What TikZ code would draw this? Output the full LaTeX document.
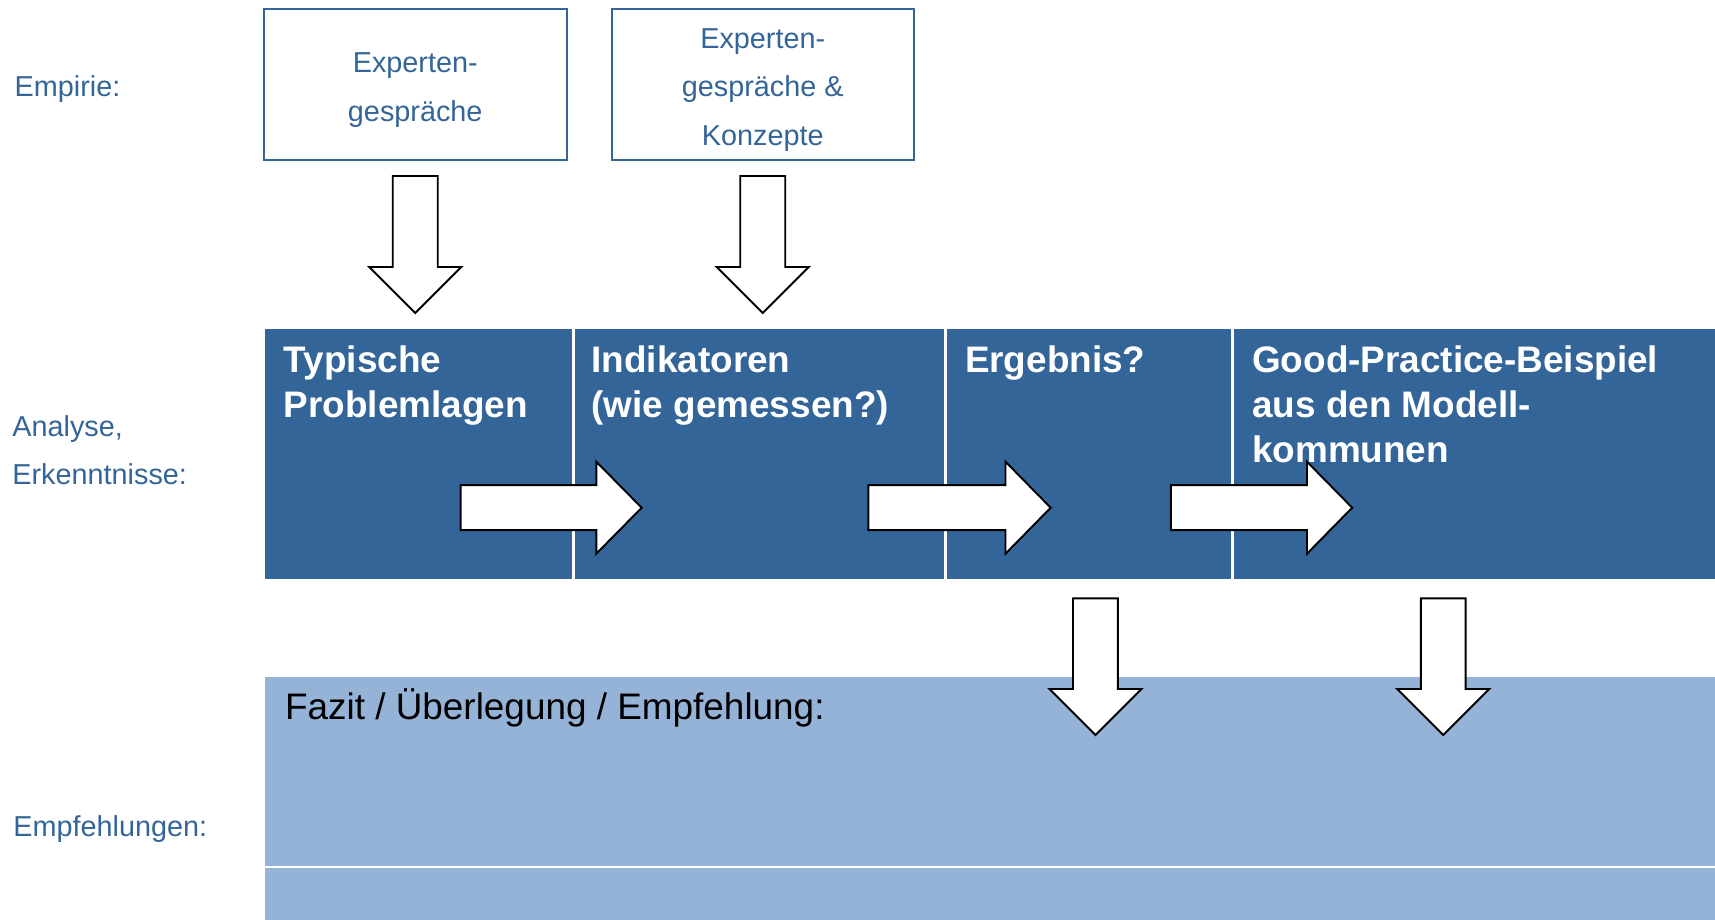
\documentclass[tikz,border=0pt]{standalone}
\usepackage{fontspec}
\setmainfont{Liberation Sans}
\usetikzlibrary{calc}
\definecolor{deepblue}{RGB}{52,101,153}
\definecolor{paleblue}{RGB}{149,179,215}
\tikzset{
  sidelabel/.style={inner sep=0pt, text=deepblue, align=left,
    font=\fontsize{8.2}{13.7}\selectfont},
  srcbox/.style={draw=deepblue, line width=0.2mm, inner sep=0pt,
    minimum width=30.25mm, minimum height=15.1mm},
  srctext/.style={inner sep=0pt, text=deepblue, align=center,
    font=\fontsize{8.2}{13.7}\selectfont},
  stage/.style={fill=deepblue, inner sep=0pt, anchor=north west, minimum height=25mm},
  stagetext/.style={inner sep=0pt, anchor=north west, text=white, align=left,
    font=\fontsize{10.5}{12.8}\selectfont\bfseries},
  recap/.style={fill=paleblue, inner sep=0pt, anchor=north west, minimum width=145.03mm},
  blockarrow/.style={draw=black, fill=white, line width=0.55pt, line join=miter},
}

\begin{document}
\begin{tikzpicture}[x=0.1mm, y=-0.1mm]
	\useasboundingbox (0,0) rectangle (1715,919);

	% Zeilenbeschriftung links
	\node[sidelabel, anchor=base west] (lblemp) at (14,96.7) {Empirie:};
	\node[sidelabel, anchor=north west] (lblana) at (11.7,415) {Analyse,\\Erkenntnisse:};
	\node[sidelabel, anchor=base west] (lblrec) at (12.7,836.7) {Empfehlungen:};

	% Empirie: Quellen
	\node[srcbox] (exp1) at (415.25,84.5) {};
	\node[srcbox] (exp2) at (762.75,84.5) {};
	\node[srctext] (exp1txt) at ($(exp1.center)+(0,5.5)$) {Experten-\\gespräche};
	\node[srctext] (exp2txt) at ($(exp2.center)+(0,5.5)$) {Experten-\\gespräche \&\\Konzepte};

	% Blockpfeile nach unten
	\draw[blockarrow, shift={($(exp1.south)+(0,15)$)}] (-22.5,0) -- (22.5,0) -- (22.5,91)
		-- (46,91) -- (0,137) -- (-46,91) -- (-22.5,91) -- cycle;
	\draw[blockarrow, shift={($(exp2.south)+(0,15)$)}] (-22.5,0) -- (22.5,0) -- (22.5,91)
		-- (46,91) -- (0,137) -- (-46,91) -- (-22.5,91) -- cycle;

	% Analyse: vier Felder
	\node[stage, minimum width=30.61mm] (typ) at (264.7,328.3) {};
	\node[stage, minimum width=36.89mm] (ind) at (573.9,328.3) {};
	\node[stage, minimum width=28.42mm] (erg) at (945.8,328.3) {};
	\node[stage, minimum width=48.20mm] (gp) at (1233,328.3) {};
	\node[stagetext] (typtxt) at ($(typ.north west)+(18.5,17)$) {Typische\\Problemlagen};
	\node[stagetext] (indtxt) at ($(ind.north west)+(17,17)$) {Indikatoren\\(wie gemessen?)};
	\node[stagetext] (ergtxt) at ($(erg.north west)+(18.5,17)$) {Ergebnis?};
	\node[stagetext] (gptxt) at ($(gp.north west)+(18.5,17)$) {Good-Practice-Beispiel\\aus den Modell-\\kommunen};

	% Blockpfeile nach rechts
	\draw[blockarrow, shift={(460.6,507.7)}] (0,-22.5) -- (135.7,-22.5) -- (135.7,-46)
		-- (181.1,0) -- (135.7,46) -- (135.7,22.5) -- (0,22.5) -- cycle;
	\draw[blockarrow, shift={(868.3,507.7)}] (0,-22.5) -- (137.2,-22.5) -- (137.2,-46)
		-- (182.4,0) -- (137.2,46) -- (137.2,22.5) -- (0,22.5) -- cycle;
	\draw[blockarrow, shift={(1170.8,507.7)}] (0,-22.5) -- (136.2,-22.5) -- (136.2,-46)
		-- (181.4,0) -- (136.2,46) -- (136.2,22.5) -- (0,22.5) -- cycle;

	% Empfehlungen
	\node[recap, minimum height=18.9mm] (fazit) at (264.7,676) {};
	\node[recap, minimum height=5.2mm] (fazitlow) at (264.7,867) {};
	\node[anchor=base west, inner sep=0pt, font=\fontsize{10.5}{12.8}\selectfont]
		(fazittxt) at ($(fazit.north west)+(19.7,43.3)$) {Fazit / Überlegung / Empfehlung:};

	% Blockpfeile in die Empfehlungen
	\draw[blockarrow, shift={(1095.4,598.3)}] (-22.4,0) -- (22.4,0) -- (22.4,90.7)
		-- (46,90.7) -- (0,136.7) -- (-46,90.7) -- (-22.4,90.7) -- cycle;
	\draw[blockarrow, shift={(1443.2,598.3)}] (-22.4,0) -- (22.4,0) -- (22.4,90.7)
		-- (46,90.7) -- (0,136.7) -- (-46,90.7) -- (-22.4,90.7) -- cycle;
\end{tikzpicture}
\end{document}
